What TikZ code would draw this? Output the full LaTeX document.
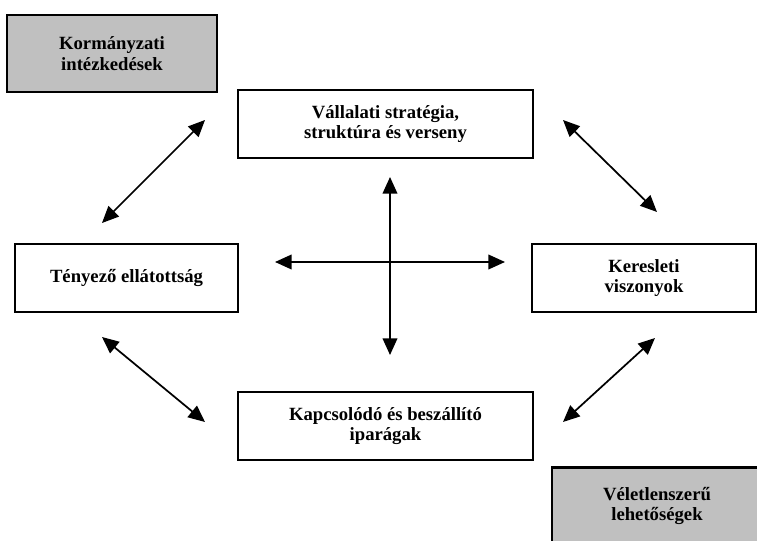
\documentclass[tikz,border=0pt]{standalone}
\usepackage{fontspec}
\setmainfont{Liberation Serif}
\usetikzlibrary{arrows.meta}
\definecolor{silvergray}{HTML}{C0C0C0}

\begin{document}
\begin{tikzpicture}[x=0.75pt, y=-0.75pt,
	factor/.style={draw=black, line width=1.6pt, align=center, inner sep=0pt,
		font=\fontsize{14}{15.5}\selectfont\bfseries},
	outside/.style={factor, fill=silvergray},
	link/.style={line width=1.3pt,
		{Triangle[length=12.5pt,width=11pt]}-{Triangle[length=12.5pt,width=11pt]}}]
	
	% Frame
	\useasboundingbox (0,0) rectangle (757,541);
	\clip (0,0) rectangle (757,541);
	
	% Main factors
	\node[factor, minimum width=221.25pt, minimum height=51pt] (strat) at (385.5,124)
	{Vállalati stratégia,\\struktúra és verseny};
	\node[factor, minimum width=167.25pt, minimum height=51pt] (teny) at (126.5,278)
	{Tényező ellátottság};
	\node[factor, minimum width=168pt, minimum height=51pt] (kereslet) at (644,278)
	{Keresleti\\viszonyok};
	\node[factor, minimum width=221.25pt, minimum height=51pt] (kapcs) at (385.5,426)
	{Kapcsolódó és beszállító\\iparágak};
	
	% Outside influences
	\node[outside, minimum width=157.5pt, minimum height=57.75pt] (korm) at (112,53.5)
	{Kormányzati\\intézkedések};
	\node[outside, minimum width=157.5pt, minimum height=57.75pt] (velet) at (657,506)
	{Véletlenszerű\\lehetőségek};
	
	% Arrow ends
	\coordinate (tl-a) at (102,223);
	\coordinate (tl-b) at (205,120);
	\coordinate (tr-a) at (563,120);
	\coordinate (tr-b) at (657,212);
	\coordinate (bl-a) at (102,337);
	\coordinate (bl-b) at (205,422);
	\coordinate (br-a) at (563,422);
	\coordinate (br-b) at (655,338);
	\coordinate (up) at (390,177);
	\coordinate (down) at (390,355);
	\coordinate (left) at (275,262);
	\coordinate (right) at (505,262);
	
	% Links
	\draw[link] (tl-a) -- (tl-b);
	\draw[link] (tr-a) -- (tr-b);
	\draw[link] (bl-a) -- (bl-b);
	\draw[link] (br-a) -- (br-b);
	\draw[link] (up) -- (down);
	\draw[link] (left) -- (right);
	
\end{tikzpicture}
\end{document}
